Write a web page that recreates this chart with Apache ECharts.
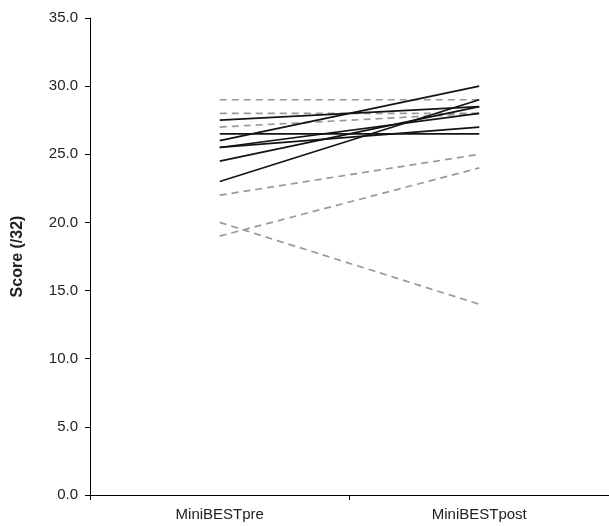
<!DOCTYPE html>
<html>
<head>
<meta charset="utf-8">
<script src="https://cdn.jsdelivr.net/npm/echarts@6/dist/echarts.min.js"></script>
<style>html,body{margin:0;padding:0;background:#fff;}#c{width:609px;height:526px;}</style>
</head>
<body>
<div id="c"></div>
<script>
var categories = ['MiniBESTpre', 'MiniBESTpost'];
var yTicks = [0, 5, 10, 15, 20, 25, 30, 35];
// solid black lines (pre, post)
var solidPre  = [27.5, 26.5, 26.0, 25.5, 25.5, 24.5, 23.0];
var solidPost = [28.5, 26.5, 30.0, 28.0, 27.0, 28.5, 29.0];
// dashed grey lines (pre, post)
var dashedPre  = [29.0, 28.0, 27.0, 22.0, 20.0, 19.0];
var dashedPost = [29.0, 28.0, 28.0, 25.0, 14.0, 24.0];

var series = [];
dashedPre.forEach(function (v, i) {
  series.push({type: 'line', data: [v, dashedPost[i]], symbol: 'none',
    lineStyle: {color: '#999999', width: 1.7, type: [7, 5]}, z: 2});
});
solidPre.forEach(function (v, i) {
  series.push({type: 'line', data: [v, solidPost[i]], symbol: 'none',
    lineStyle: {color: '#141414', width: 1.7}, z: 3});
});

var chart = echarts.init(document.getElementById('c'), null, {renderer: 'canvas'});
chart.setOption({
  animation: false,
  grid: {left: 90, top: 18, width: 522, bottom: 31},
  xAxis: {
    type: 'category', data: categories, boundaryGap: true,
    axisLine: {lineStyle: {color: '#000', width: 1}},
    axisTick: {show: true, length: 5, lineStyle: {color: '#000'}},
    axisLabel: {color: '#222', fontSize: 15, fontFamily: 'Liberation Sans', margin: 12}
  },
  yAxis: {
    type: 'value', min: yTicks[0], max: yTicks[yTicks.length - 1], interval: 5,
    name: 'Score (/32)', nameLocation: 'middle', nameGap: 64,
    nameTextStyle: {fontWeight: 'bold', fontSize: 16, color: '#222', fontFamily: 'Liberation Sans'},
    axisLine: {show: true, lineStyle: {color: '#000', width: 1}},
    axisTick: {show: true, length: 5, lineStyle: {color: '#000'}},
    splitLine: {show: false},
    axisLabel: {color: '#222', fontSize: 15, fontFamily: 'Liberation Sans', margin: 12,
      formatter: function (v) { return v.toFixed(1); }}
  },
  series: series
});
</script>
</body>
</html>
